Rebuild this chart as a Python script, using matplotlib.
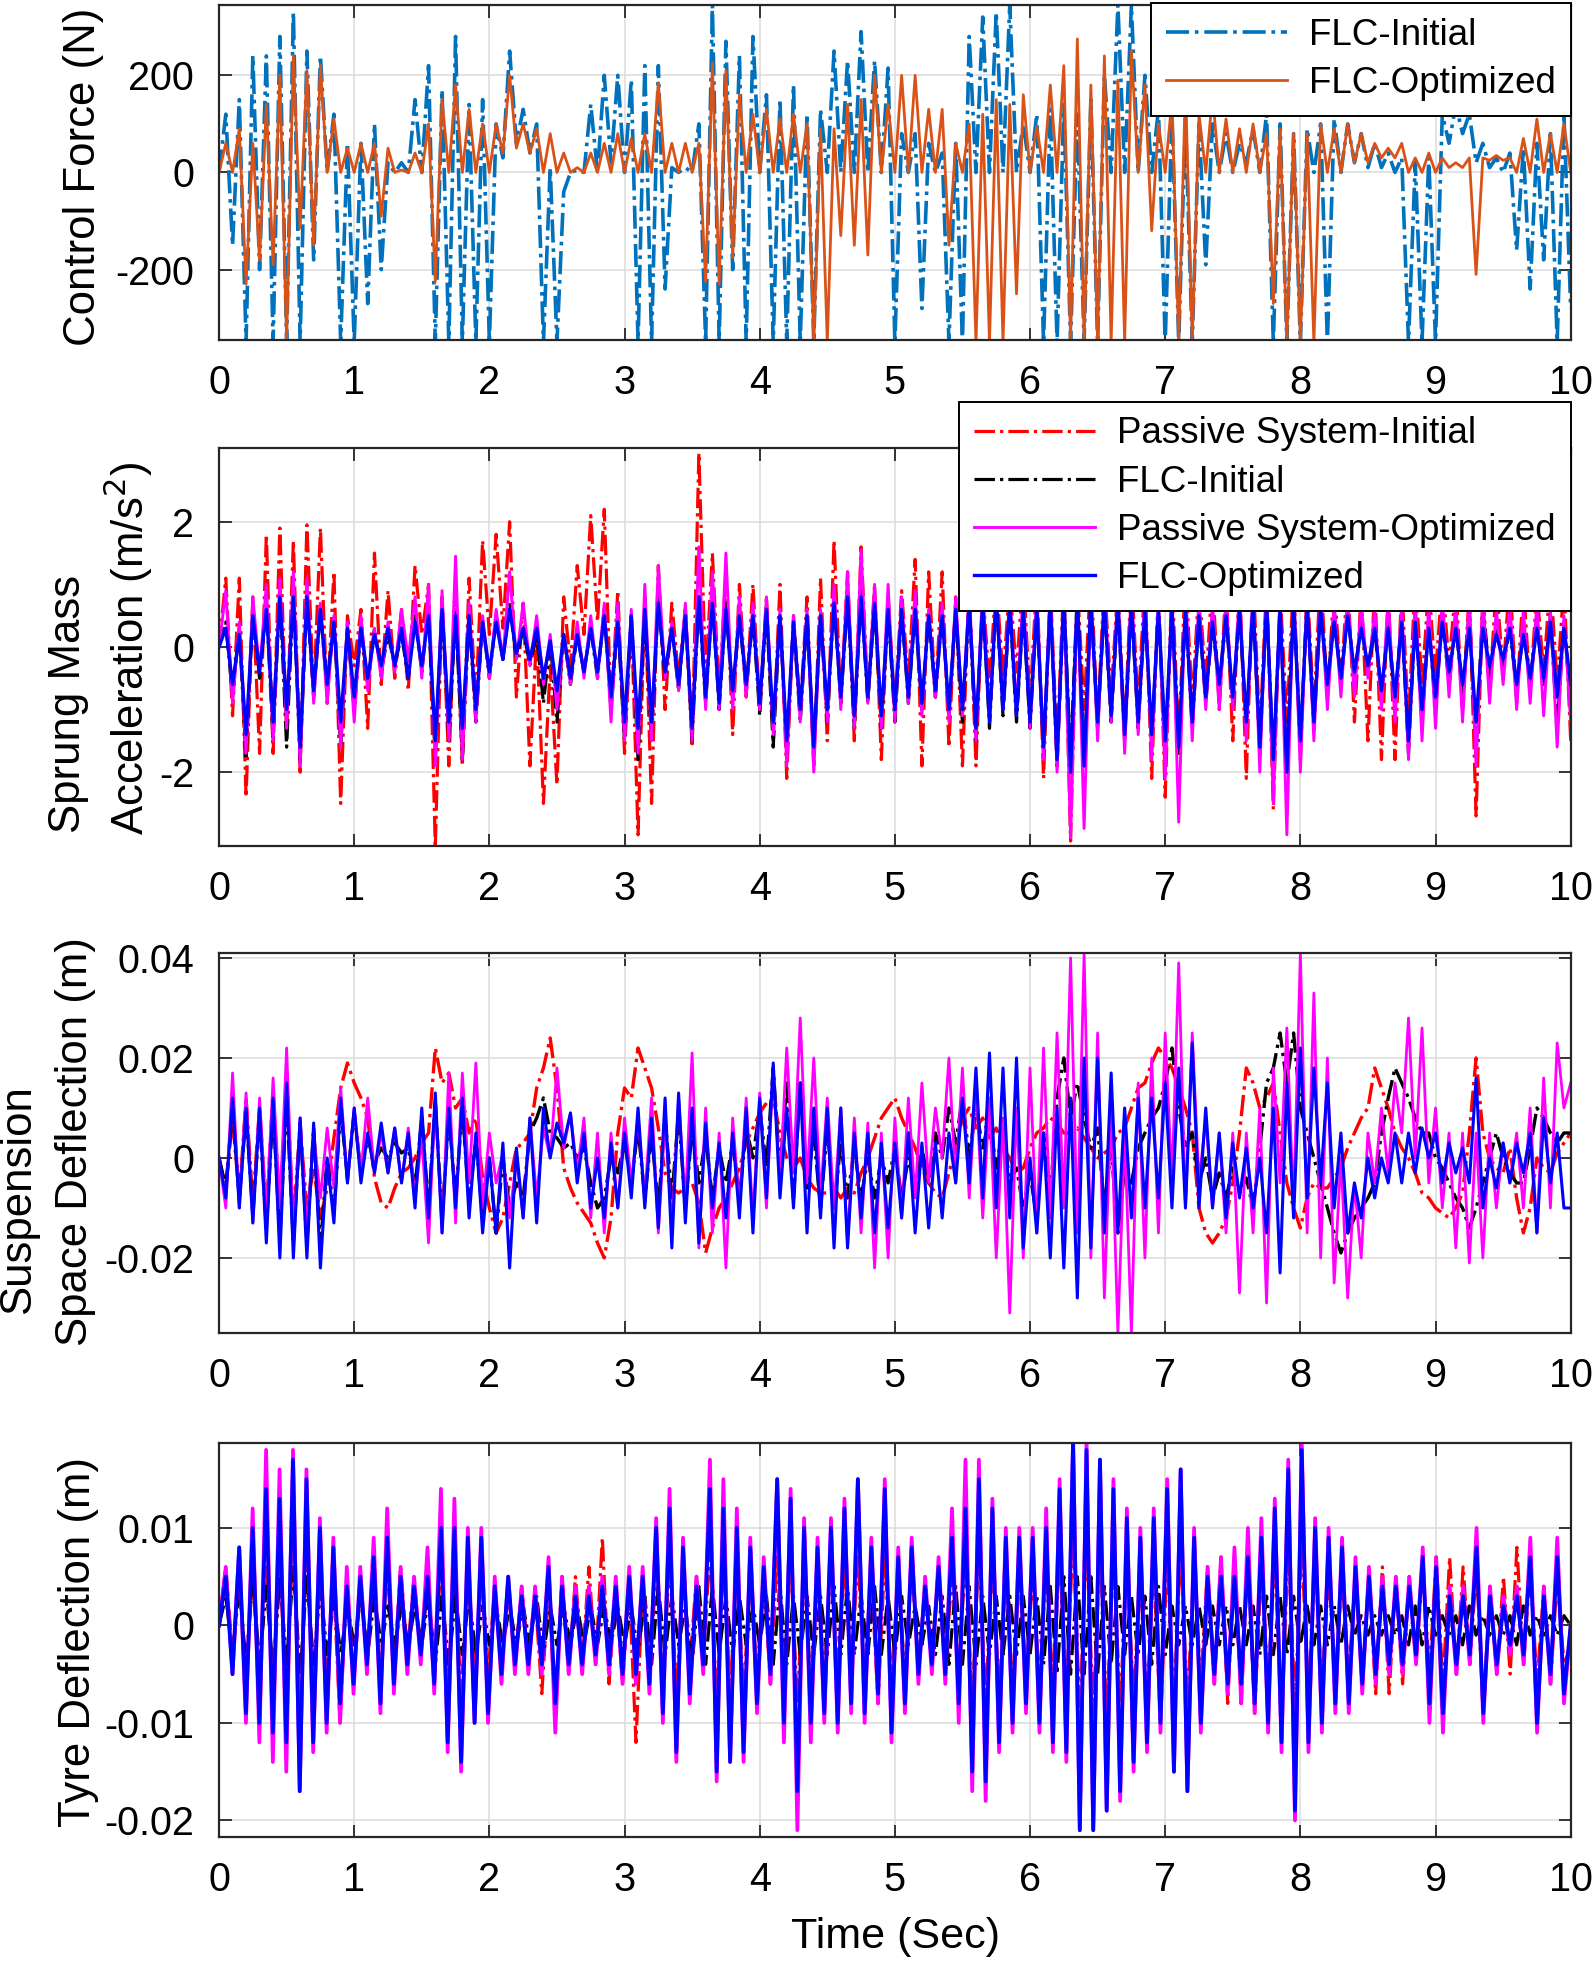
import numpy as np
import matplotlib
matplotlib.use("Agg")
import matplotlib.pyplot as plt

plt.rcParams['font.family'] = ['Liberation Sans', 'DejaVu Sans']
plt.rcParams['axes.unicode_minus'] = False

# ---- panel 1: control force (N), samples every 0.05 s over 0..10 s
ctrl_flc_init = [
    0, 120, -150, 150, -350, 240, -200, 240, -350, 280, -350, 330, -350, 250, -180, 240, 0, 120, -350, 60,
    -350, 60, -270, 100, -200, 20, 0, 20, 0, 150, 0, 220, -350, 170, -350, 280, -350, 140, -350, 150,
    -350, 100, 30, 250, 60, 130, 40, 100, -350, 10, -350, -40, 0, 5, 0, 140, 0, 200, 20, 200,
    0, 190, -350, 220, -350, 220, -240, 10, 0, 10, 0, 100, -350, 345, -350, 270, -200, 240, -350, 280,
    0, 160, -350, 150, -350, 180, -350, 120, -350, 130, 0, 250, 0, 230, 0, 290, 0, 230, 0, 215,
    -350, 80, 0, 80, -280, 60, 0, 40, -350, 60, -350, 280, 0, 320, 0, 330, 0, 345, 0, 100,
    0, 120, -350, 130, -350, 140, -350, 120, -350, 150, -350, 200, 0, 345, 0, 345, 0, 200, 0, 130,
    -350, 120, -350, 110, -350, 100, -190, 100, 0, 80, 0, 60, 20, 90, 0, 120, -350, 100, -350, 80,
    -350, 90, 0, 100, -350, 110, 0, 100, 20, 80, 10, 60, 10, 40, 0, 30, -350, 20, -350, 30,
    -350, 120, 60, 140, 80, 120, 20, 60, 10, 30, 0, 40, -160, 50, -240, 60, -180, 80, -350, 120, -280]
ctrl_flc_opt = [
    0, 60, 0, 90, -230, 60, -180, 140, -190, 200, -350, 240, -115, 210, -150, 220, 0, 110, 0, 50,
    0, 60, 0, 60, -90, 50, 0, 5, 0, 40, 0, 100, -225, 150, 0, 180, 0, 130, 0, 100,
    0, 100, 40, 200, 50, 100, 40, 90, 0, 80, 0, 40, 0, 10, 0, 40, 0, 60, 0, 80,
    0, 70, 0, 80, 0, 185, 0, 60, 0, 60, 0, 60, -225, 225, -230, 210, -175, 160, 0, 120,
    0, 130, 0, 110, 0, 120, 0, 100, -350, 90, -350, 90, -130, 140, -150, 150, -170, 200, 0, 140,
    0, 200, 0, 200, 0, 130, 0, 130, -150, 60, 0, 100, -350, 120, -350, 150, -350, 140, -250, 160,
    0, 95, 0, 180, 0, 220, -350, 275, -350, 180, -350, 240, -350, 190, -350, 250, 0, 180, -120, 100,
    0, 150, -350, 180, -350, 120, 0, 160, 0, 110, 0, 90, 0, 100, 0, 80, -270, 90, -350, 80,
    -350, 80, -350, 100, 0, 90, 0, 100, 20, 80, 20, 60, 30, 50, 30, 60, 0, 30, 0, 40,
    0, 30, 10, 20, 10, 30, -210, 30, 25, 35, 25, 30, 0, 70, 0, 110, 0, 80, 0, 100, 0]

# ---- panel 2: sprung mass acceleration (m/s^2)
acc_passive_init = [
    0, 1.1, -1.1, 1.1, -2.4, 0.8, -1.7, 1.8, -1.7, 1.9, -1.4, 1.7, -2.0, 1.95, -0.8, 1.9, -0.9, 1.2, -2.5, 0.5,
    -0.3, 0.6, -1.3, 1.5, -0.6, 0.9, -0.5, 0.6, -0.7, 1.3, 0.2, 1.0, -3.2, 0.8, -1.9, 0.9, -1.9, 1.1, -0.9, 1.7,
    0.2, 1.8, 0.3, 2.0, -0.8, 0.7, -1.9, 0.2, -2.5, -0.3, -2.2, 0.8, -0.3, 1.3, 0.2, 2.1, 0.4, 2.2, -1.0, 0.9,
    -1.7, 0.5, -3.0, 0.8, -2.5, 1.3, -1.0, 0.7, -0.5, 0.6, -1.6, 3.1, -0.5, 1.5, -0.8, 1.2, -1.4, 1.0, -0.8, 1.0,
    -1.0, 0.8, -1.5, 1.0, -2.1, 0.5, -1.0, 0.8, -1.9, 1.1, -1.5, 1.7, -0.9, 1.2, -1.5, 1.6, -0.8, 1.0, -1.8, 0.8,
    -1.0, 0.9, -0.6, 1.4, -1.9, 1.2, -0.8, 1.2, -1.6, 0.8, -1.9, 1.0, -1.9, 0.9, -0.6, 1.1, -0.5, 1.0, -0.4, 1.2,
    -0.9, 1.1, -2.1, 1.0, -1.6, 1.1, -3.1, 1.0, -1.0, 1.2, -1.2, 1.1, -0.8, 1.0, -1.4, 1.2, -1.0, 1.1, -2.1, 1.0,
    -2.4, 1.1, -1.5, 1.2, -0.9, 1.0, -0.6, 1.1, -1.0, 1.0, -1.5, 1.1, -2.1, 1.2, -1.4, 1.0, -2.6, 0.9, -1.2, 1.1,
    -1.8, 1.0, -1.0, 1.2, -0.8, 1.0, -0.6, 1.1, -1.2, 0.9, -1.5, 1.0, -1.8, 0.9, -1.8, 1.0, -1.2, 1.1, -0.6, 1.0,
    -0.5, 1.1, -0.3, 1.0, -1.0, 0.9, -2.7, 0.8, -0.7, 1.0, -0.4, 1.1, -0.9, 1.0, -0.7, 0.9, -0.4, 1.1, -0.6, 1.0, -1.5]
acc_flc_init = [
    0, 0.4, -0.8, 0.3, -1.8, 0.6, -0.5, 0.7, -1.5, 0.9, -1.6, 0.9, -1.8, 0.8, -0.8, 0.6, -0.7, 0.4, -1.6, 0.3,
    -1.0, 0.3, -0.6, 0.3, -0.4, 0.2, -0.3, 0.2, -0.5, 0.5, -0.4, 0.6, -1.8, 0.7, -1.5, 0.6, -1.8, 0.5, -1.2, 0.4,
    -0.5, 0.5, -0.2, 0.7, -0.2, 0.3, -0.3, 0.2, -0.9, 0.1, -1.2, 0.2, -0.6, 0.2, -0.4, 0.3, -0.5, 0.6, -1.0, 0.4,
    -1.5, 0.5, -1.8, 0.6, -1.5, 0.8, -0.5, 0.3, -0.7, 0.6, -1.5, 0.8, -0.9, 0.8, -1.0, 0.7, -0.8, 0.5, -0.7, 0.5,
    -1.1, 0.6, -1.6, 0.5, -1.7, 0.4, -1.2, 0.5, -1.7, 0.5, -1.2, 0.8, -0.9, 0.8, -1.3, 0.9, -0.9, 0.7, -1.3, 0.6,
    -1.2, 0.6, -0.9, 0.6, -1.0, 0.5, -0.8, 0.6, -1.1, 0.6, -1.2, 0.7, -1.5, 0.8, -1.3, 0.8, -1.1, 0.7, -1.2, 0.6,
    -1.3, 0.7, -1.7, 0.8, -1.9, 0.8, -1.8, 0.9, -1.9, 0.8, -1.3, 0.7, -1.2, 0.7, -1.5, 0.7, -1.3, 0.6, -1.5, 0.6,
    -1.6, 0.6, -1.7, 0.6, -1.3, 0.5, -0.9, 0.4, -0.7, 0.5, -0.9, 0.6, -1.3, 0.7, -1.7, 0.8, -1.9, 0.6, -2.0, 0.8,
    -1.6, 0.7, -1.3, 0.7, -0.7, 0.6, -0.6, 0.6, -0.5, 0.4, -0.4, 0.3, -0.8, 0.4, -0.9, 0.5, -1.7, 0.5, -1.2, 0.4,
    -1.0, 0.5, -0.6, 0.4, -0.8, 0.6, -1.7, 0.7, -0.5, 0.3, -0.3, 0.3, -0.7, 0.3, -0.6, 0.4, -0.6, 0.5, -1.3, 0.4, -0.9]
acc_passive_opt = [
    0, 0.9, -0.9, 0.4, -1.7, 0.8, -0.4, 1.0, -1.5, 1.1, -1.3, 1.2, -1.9, 1.1, -0.9, 0.7, -0.9, 0.5, -1.6, 0.4,
    -1.2, 0.5, -0.7, 0.3, -0.5, 0.4, -0.4, 0.6, -0.2, 0.8, -0.5, 1.0, -1.9, 0.9, -1.5, 1.45, -1.8, 0.7, -1.2, 0.5,
    -0.5, 0.6, -0.2, 1.2, -0.2, 0.7, -0.3, 0.5, -0.6, 0.2, -1.0, 0.2, -0.6, 0.4, -0.5, 0.5, -0.5, 0.7, -1.2, 0.7,
    -1.5, 0.6, -1.7, 1.0, -1.5, 1.3, -0.5, 0.4, -0.7, 0.7, -1.5, 1.6, -1.0, 1.2, -1.0, 1.5, -1.0, 0.8, -0.8, 0.7,
    -1.0, 0.8, -1.4, 0.6, -1.9, 0.5, -1.2, 0.6, -2.0, 0.6, -1.2, 1.0, -1.0, 1.2, -1.3, 1.55, -0.9, 1.0, -1.3, 1.0,
    -1.2, 0.8, -0.9, 0.9, -1.1, 0.6, -0.8, 0.7, -1.2, 0.8, -1.1, 0.9, -1.5, 1.0, -1.2, 0.9, -1.0, 0.8, -1.0, 0.9,
    -1.3, 0.9, -1.8, 1.0, -2.0, 1.0, -3.05, 1.0, -2.9, 0.9, -1.5, 1.0, -1.2, 0.9, -1.7, 1.0, -1.4, 0.9, -1.8, 0.8,
    -2.1, 0.9, -2.8, 1.0, -1.5, 0.8, -1.0, 0.7, -1.0, 0.8, -1.0, 0.9, -1.5, 0.9, -2.0, 1.0, -2.5, 0.9, -3.0, 1.0,
    -2.0, 0.9, -1.5, 0.8, -1.0, 0.7, -0.8, 0.8, -0.8, 0.7, -0.5, 0.6, -1.0, 0.8, -1.2, 0.7, -1.8, 0.8, -1.5, 0.7,
    -1.3, 0.8, -0.8, 0.7, -1.2, 0.8, -1.9, 0.8, -0.9, 0.6, -0.6, 0.7, -1.0, 0.6, -0.9, 0.7, -1.1, 0.6, -1.6, 0.5, -1.2]
acc_flc_opt = [
    0, 0.3, -0.6, 0.2, -1.4, 0.5, -0.4, 0.6, -1.2, 0.8, -1.0, 0.8, -1.6, 0.8, -0.7, 0.6, -0.6, 0.4, -1.2, 0.3,
    -0.8, 0.3, -0.5, 0.2, -0.3, 0.3, -0.3, 0.3, -0.5, 0.4, -0.3, 0.5, -1.5, 0.6, -1.2, 0.5, -1.3, 0.5, -1.0, 0.4,
    -0.4, 0.4, -0.2, 0.6, -0.1, 0.3, -0.2, 0.3, -0.5, 0.1, -0.7, 0.2, -0.5, 0.2, -0.4, 0.3, -0.4, 0.5, -0.8, 0.4,
    -1.2, 0.5, -1.3, 0.6, -1.2, 0.7, -0.4, 0.3, -0.6, 0.5, -1.3, 0.8, -0.8, 0.7, -0.9, 0.6, -0.7, 0.5, -0.6, 0.5,
    -0.9, 0.6, -1.2, 0.5, -1.5, 0.4, -1.0, 0.5, -1.6, 0.5, -1.0, 0.7, -0.8, 0.8, -1.1, 0.8, -0.8, 0.7, -1.1, 0.6,
    -1.0, 0.6, -0.8, 0.6, -0.9, 0.5, -0.7, 0.5, -1.0, 0.6, -1.0, 0.7, -1.3, 0.7, -1.2, 0.8, -1.0, 0.7, -1.1, 0.6,
    -1.2, 0.6, -1.6, 0.7, -1.8, 0.8, -2.0, 0.8, -1.9, 0.7, -1.2, 0.7, -1.1, 0.7, -1.4, 0.7, -1.2, 0.6, -1.4, 0.6,
    -1.5, 0.6, -1.6, 0.6, -1.2, 0.5, -0.8, 0.4, -0.6, 0.5, -0.8, 0.6, -1.2, 0.7, -1.6, 0.7, -1.8, 0.6, -2.0, 0.7,
    -1.5, 0.7, -1.2, 0.6, -0.6, 0.4, -0.5, 0.5, -0.4, 0.3, -0.3, 0.3, -0.7, 0.3, -0.8, 0.4, -1.5, 0.4, -1.0, 0.3,
    -0.8, 0.4, -0.4, 0.3, -0.6, 0.3, -1.2, 0.3, -0.3, 0.2, -0.2, 0.3, -0.6, 0.2, -0.5, 0.3, -0.5, 0.4, -0.8, 0.3, -0.6]

# ---- panel 3: suspension space deflection, in mm
sus_passive_init_mm = [
    0, -6, 8, -8, 12, -9, 10, -11, 13, -10, 15, -12, 6, -10, -2, -12, -6, 4, 14, 19,
    15, 12, 8, -4, -9, -10, -6, -3, -2, 0, 3, 5, 22, 15, 17, 10, 12, 5, 8, -4,
    -10, -15, -12, -5, 2, 3, 5, 14, 18, 24, 14, -2, -6, -9, -11, -13, -17, -20, -12, 5,
    14, 12, 22, 18, 14, 6, -3, -6, -7, -6, -5, -9, -19, -14, -10, -8, -5, -2, 3, 6,
    9, 11, 12, 5, 0, -2, 0, -4, -6, -7, -7, -6, -8, -6, -7, -3, 0, 4, 8, 10,
    12, 8, 5, 2, -2, -5, -7, -8, -3, 2, 8, 10, 6, 8, 4, 6, 2, 0, -3, -2,
    2, 5, 6, 8, 7, 5, 5, 6, 4, 2, 0, 1, 2, 5, 6, 10, 14, 15, 19, 22,
    20, 18, 14, 10, 5, -10, -15, -17, -15, -12, -5, 5, 18, 15, 10, 12, 15, 5, -5, -10,
    -14, -8, -5, -6, -6, -4, -2, 2, 5, 8, 10, 18, 14, 10, 5, 2, 0, -3, -7, -8,
    -10, -11, -12, -10, -7, 5, 20, 5, 0, -2, -3, 2, -8, -15, -10, 0, -2, -3, 1, 3, 5]
sus_flc_init_mm = [
    0, -6, 10, -8, 9, -11, 8, -14, 10, -16, 12, -17, 7, -17, 6, -18, 0, -11, 10, -4,
    9, -3, 4, -1, 2, 0, 3, 1, 2, -6, 8, -10, 11, -12, 9, -8, 10, -9, 4, -12,
    0, -15, 0, -10, -5, -8, 5, 8, 12, 5, 4, 2, 3, 0, 2, -5, -10, -8, 0, -3,
    3, -5, 6, -8, 5, -10, 8, -8, 9, -10, 6, -5, 4, -8, 2, -5, 3, -8, 6, 0,
    10, -2, 18, -3, 15, -8, 15, -6, 5, -10, 6, -10, 3, -8, 2, -8, 0, -8, 0, -5,
    2, -8, 0, -6, 2, -5, 5, 0, 10, 3, 12, 0, 10, 2, 8, -2, 6, -5, -2, -10,
    -3, -12, 5, -8, 12, 20, 8, 15, 8, 2, 6, -10, 2, -15, -2, -5, 2, 5, 8, 10,
    15, 22, 10, 2, 5, -5, 0, -8, -3, -8, -2, -7, -4, -10, 2, 15, 18, 25, 15, 25,
    10, 5, 0, -5, -10, -15, -19, -15, -12, -10, -8, -5, 5, 12, 18, 15, 12, 8, 5, 5,
    0, -2, -5, -8, -10, -14, -10, -5, 0, 5, 0, -3, -5, -5, 2, 10, 8, 5, 3, 5, 5]
sus_passive_opt_mm = [
    0, -10, 17, -10, 13, -13, 12, -12, 16, -10, 22, -15, 8, -15, 5, -8, 6, -6, 14, -5,
    10, -3, 12, -3, 5, -3, 6, -5, 6, -8, 4, -17, 12, -15, 17, -13, 17, -5, 19, -10,
    5, -5, 1, -12, 0, -12, 8, -8, 6, 0, 18, 2, 9, -3, 8, -12, 5, -15, 5, -10,
    8, -5, 8, -8, 12, -15, 8, -14, 12, -9, 21, -18, 10, -15, 5, -22, 8, -10, 12, -12,
    13, -10, 18, -5, 22, -3, 28, -5, 20, -8, 12, -10, 10, -17, 8, -15, 7, -22, 5, -20,
    8, -12, 12, -8, 15, -5, 10, 0, 20, -5, 18, -8, 15, -12, 12, -20, 8, -31, 10, -20,
    18, -15, 22, -12, 25, -10, 40, -15, 41, -20, 25, -28, 10, -35, 5, -35, 15, -20, 20, -15,
    25, -5, 39, -10, 25, -5, 8, -10, 5, -15, 5, -27, 5, -15, 10, -29, 18, -5, 26, -10,
    41, -15, 33, -20, 20, -25, 0, -28, -5, -20, 5, -5, 10, -3, 15, 5, 28, 0, 26, -5,
    10, -10, 5, -18, 5, -21, 5, -20, 5, -10, 3, -5, 5, -10, 10, -15, 16, -10, 23, 10, 15]
sus_flc_opt_mm = [
    0, -8, 12, -10, 10, -13, 10, -17, 12, -20, 15, -20, 8, -20, 7, -22, 0, -13, 12, -5,
    10, -5, 5, -3, 7, -3, 6, -5, 5, -10, 10, -12, 13, -15, 10, -10, 12, -12, 5, -15,
    0, -15, 3, -22, 2, -12, 8, -13, 10, 0, 7, 3, 9, -5, 5, -10, 0, -12, 3, -10,
    5, -8, 10, -10, 8, -14, 12, -18, 13, -13, 10, -17, 7, -10, 3, -12, 5, -12, 10, -15,
    12, -8, 19, -8, 10, -10, 15, -15, 10, -12, 10, -18, 10, -18, 5, -12, 5, -15, 3, -14,
    3, -12, 5, -15, 3, -14, 3, -12, 5, -5, 12, -5, 18, -8, 21, -10, 18, -12, 20, -18,
    0, -15, 5, -20, 10, -22, 12, -28, 20, -18, 20, -15, 17, -15, 10, -12, 12, -10, 12, -8,
    15, -10, 18, -10, 23, -10, 10, -10, 5, -12, 3, -8, 2, -10, 0, -15, 10, -23, 15, -12,
    22, -8, 18, -5, 15, -10, 5, -15, -5, -12, 0, -8, 0, -5, 5, -5, 5, -3, 6, 0,
    5, -5, 3, -3, 2, -5, 16, -10, 0, -6, 3, -5, 3, -3, 5, -15, 8, -5, 5, -10, -10]

# ---- panel 4: tyre deflection, in mm
tyre_passive_init_mm = [
    0, 6, -3, 5, -5, 5, -6, 6, -6, 6, -6, 8, -8, 7, -7, 5, -6, 5, -10, 5, -6,
    4, -3, 5, -5, 6, -5, 6, -3, 5, -3, 4, -4, 6, -7, 6, -7, 5, -5, 5, -5,
    4, -4, 4, -4, 4, -3, 3, -7, 4, -9, 5, -5, 5, -4, 6, -4, 9, -6, 4, -6,
    4, -12, 4, -6, 6, -6, 7, -7, 5, -4, 5, -4, 8, -8, 7, -7, 6, -7, 5, -5,
    5, -6, 7, -6, 7, -8, 6, -6, 5, -5, 6, -5, 6, -5, 7, -6, 5, -8, 7, -6,
    5, -5, 6, -4, 4, -3, 5, -4, 5, -5, 7, -8, 8, -8, 7, -7, 5, -6, 5, -5,
    5, -6, 6, -6, 7, -7, 9, -9, 9, -9, 8, -9, 7, -8, 6, -7, 5, -8, 6, -10,
    7, -8, 8, -8, 6, -6, 6, -6, 7, -8, 7, -8, 7, -9, 6, -6, 7, -10, 8, -8,
    8, -7, 6, -6, 5, -5, 5, -5, 5, -6, 5, -7, 6, -7, 5, -6, 5, -4, 6, -5,
    7, -6, 7, -5, 6, -4, 6, -9, 4, -5, 5, -5, 8, -4, 6, -6, 4, -6, 5, -4, -2]
tyre_flc_init_mm = [
    0, 3, -3, 4, -4, 5, -4, 4, -5, 5, -4, 6, -5, 5, -4, 4, -3, 3, -3, 2,
    -2, 3, -3, 3, -2, 2, -2, 2, -2, 2, -2, 3, -4, 3, -4, 3, -3, 3, -3, 2,
    -2, 2, -2, 2, -2, 2, -2, 3, -3, 2, -2, 2, -2, 2, -2, 2, -2, 2, -2, 2,
    -2, 2, -3, 3, -4, 4, -3, 3, -2, 2, -4, 4, -4, 4, -3, 3, -3, 3, -2, 2,
    -2, 3, -4, 4, -4, 3, -3, 3, -3, 3, -3, 4, -3, 4, -3, 3, -3, 4, -3, 3,
    -3, 3, -2, 2, -2, 2, -3, 3, -4, 4, -4, 4, -4, 3, -3, 3, -3, 3, -3, 3,
    -3, 3, -4, 4, -5, 5, -5, 5, -5, 5, -5, 4, -4, 4, -3, 3, -3, 3, -4, 4,
    -3, 2, -2, 2, -2, 2, -2, 2, -2, 2, -2, 2, -2, 2, -3, 3, -3, 3, -3, 3,
    -2, 2, -2, 2, -2, 2, -2, 2, -1, 1, -1, 1, -1, 1, -1, 1, -2, 2, -2, 2,
    -1, 1, -1, 1, -2, 2, -1, 1, -1, 1, -1, 1, -2, 2, -1, 1, -1, 1, -1, 1, 0]
tyre_passive_opt_mm = [
    0, 6, -5, 8, -10, 12, -12, 18, -14, 16, -15, 18, -17, 16, -13, 11, -11, 9, -10, 6, -7,
    6, -5, 9, -9, 12, -7, 6, -5, 5, -4, 8, -7, 14, -13, 13, -15, 10, -10, 10, -10,
    5, -6, 5, -5, 4, -5, 4, -5, 7, -11, 5, -5, 4, -5, 4, -4, 5, -5, 5, -6,
    6, -6, 6, -7, 11, -10, 14, -14, 9, -8, 5, -5, 17, -16, 15, -14, 12, -14, 9, -9,
    7, -6, 15, -12, 14, -21, 11, -12, 9, -10, 11, -11, 13, -9, 15, -10, 9, -8, 15, -12,
    8, -9, 9, -6, 5, -5, 7, -6, 12, -10, 17, -17, 17, -18, 13, -13, 10, -11, 10, -9,
    10, -11, 12, -13, 15, -14, 19, -21, 19, -21, 17, -19, 15, -18, 12, -15, 10, -13, 12, -11,
    15, -15, 16, -17, 10, -11, 6, -6, 7, -7, 8, -8, 10, -9, 11, -11, 13, -13, 17, -20,
    19, -13, 11, -11, 10, -9, 9, -9, 7, -7, 6, -6, 5, -5, 5, -5, 5, -4, 8, -10,
    7, -11, 4, -5, 4, -4, 10, -10, 4, -5, 3, -3, 4, -4, 9, -11, 4, -6, 9, -8, 0]
tyre_flc_opt_mm = [
    0, 5, -5, 8, -9, 10, -10, 14, -11, 13, -12, 17, -17, 15, -12, 10, -10, 8, -8, 4, -6,
    5, -4, 7, -8, 9, -6, 5, -4, 4, -3, 5, -6, 10, -12, 10, -14, 9, -10, 9, -9,
    4, -5, 5, -4, 3, -4, 3, -4, 6, -8, 4, -4, 3, -4, 3, -3, 4, -4, 4, -5,
    5, -5, 5, -6, 10, -9, 12, -13, 8, -7, 4, -4, 14, -15, 12, -14, 10, -13, 8, -8,
    6, -5, 15, -10, 13, -17, 10, -10, 8, -9, 10, -10, 12, -8, 15, -9, 8, -7, 14, -11,
    7, -8, 8, -5, 4, -4, 6, -5, 9, -8, 12, -15, 15, -16, 12, -12, 9, -10, 9, -8,
    9, -10, 10, -12, 14, -13, 19, -21, 18, -21, 17, -19, 14, -17, 11, -14, 9, -12, 11, -10,
    14, -15, 16, -17, 9, -10, 5, -5, 5, -6, 5, -6, 7, -8, 9, -10, 12, -12, 16, -19,
    18, -12, 10, -10, 9, -8, 8, -8, 6, -6, 5, -5, 4, -4, 4, -4, 4, -3, 7, -8,
    6, -9, 3, -4, 3, -3, 8, -9, 3, -4, 2, -2, 3, -3, 7, -10, 3, -5, 7, -7, 0]

x_ticks = list(range(0, 11))
y1_ticks, y1_labels = [-200, 0, 200], ['-200', '0', '200']
y2_ticks, y2_labels = [-2, 0, 2], ['-2', '0', '2']
y3_ticks, y3_labels = [-0.02, 0, 0.02, 0.04], ['-0.02', '0', '0.02', '0.04']
y4_ticks, y4_labels = [-0.02, -0.01, 0, 0.01], ['-0.02', '-0.01', '0', '0.01']

C_BLUE = (0, 0.447, 0.741)
C_ORANGE = (0.85, 0.325, 0.098)


def tt(v):
    return np.linspace(0, 10, len(v))


def style(ax, ylim, yt, yl):
    ax.set_xlim(0, 10)
    ax.set_ylim(*ylim)
    ax.set_xticks(x_ticks)
    ax.set_xticklabels([str(x) for x in x_ticks])
    ax.set_yticks(yt)
    ax.set_yticklabels(yl)
    ax.grid(True, color='0.86', lw=1.1)
    ax.set_axisbelow(True)
    ax.tick_params(axis='both', direction='in', length=9, width=1.3,
                   top=True, right=True, labelsize=28.5, color='0.15')
    ax.tick_params(axis='x', pad=17)
    ax.tick_params(axis='y', pad=18)
    for s in ax.spines.values():
        s.set_linewidth(1.6)
        s.set_color('0.15')


fig = plt.figure(figsize=(15.93, 19.62), dpi=100)
L, W = 0.1375, 0.8485
ax1 = fig.add_axes([L, 0.8267, W, 0.1708])
ax2 = fig.add_axes([L, 0.5688, W, 0.2029])
ax3 = fig.add_axes([L, 0.3206, W, 0.1937])
ax4 = fig.add_axes([L, 0.0637, W, 0.2008])

leg_kw = dict(fontsize=26.5, fancybox=False, framealpha=1, edgecolor='black',
              handlelength=3.3, borderaxespad=0, handletextpad=0.6, labelspacing=0.36)

# panel 1
ax1.plot(tt(ctrl_flc_init), ctrl_flc_init, '-.', color=C_BLUE, lw=2.6, label='FLC-Initial')
ax1.plot(tt(ctrl_flc_opt), ctrl_flc_opt, '-', color=C_ORANGE, lw=2.0, label='FLC-Optimized')
style(ax1, (-345, 345), y1_ticks, y1_labels)
lg = ax1.legend(loc='upper right', bbox_to_anchor=(1.0, 1.005), **leg_kw)
lg.get_frame().set_linewidth(1.4)

# panels 2-4
names = ['Passive System-Initial', 'FLC-Initial', 'Passive System-Optimized', 'FLC-Optimized']
panels = [
    (ax2, [acc_passive_init, acc_flc_init, acc_passive_opt, acc_flc_opt], 1.0,
     (-3.18, 3.18), y2_ticks, y2_labels, [2.3, 2.3, 2.1, 2.4]),
    (ax3, [sus_passive_init_mm, sus_flc_init_mm, sus_passive_opt_mm, sus_flc_opt_mm], 0.001,
     (-0.035, 0.041), y3_ticks, y3_labels, [2.4, 2.4, 2.0, 2.2]),
    (ax4, [tyre_passive_init_mm, tyre_flc_init_mm, tyre_passive_opt_mm, tyre_flc_opt_mm], 0.001,
     (-0.0217, 0.0187), y4_ticks, y4_labels, [2.3, 2.3, 2.7, 2.7]),
]
line_styles = [('-.', 'red'), ('-.', 'black'), ('-', 'magenta'), ('-', 'blue')]
for ax, series, scale, ylim, yt, yl, widths in panels:
    for vals, (ls, c), lw, nm in zip(series, line_styles, widths, names):
        ax.plot(tt(vals), np.array(vals) * scale, ls, color=c, lw=lw, label=nm)
    style(ax, ylim, yt, yl)

lg2 = ax2.legend(loc='upper right', bbox_to_anchor=(1.0, 1.116), **leg_kw)
lg2.get_frame().set_linewidth(1.4)

# y labels (each line placed on its own)
lab = dict(rotation=90, ha='center', va='center', fontsize=31.5)
fig.text(0.0527, 0.910, 'Control Force (N)', **lab)
fig.text(0.0427, 0.6414, 'Sprung Mass', **lab)
fig.text(0.0803, 0.6692, 'Acceleration (m/s$^2$)', **lab)
fig.text(0.0115, 0.3884, 'Suspension', **lab)
fig.text(0.0477, 0.4180, 'Space Deflection (m)', **lab)
fig.text(0.049, 0.163, 'Tyre Deflection (m)', **lab)
fig.text(0.562, 0.0127, 'Time (Sec)', ha='center', va='center', fontsize=31)

fig.savefig('out.png', dpi=100)
